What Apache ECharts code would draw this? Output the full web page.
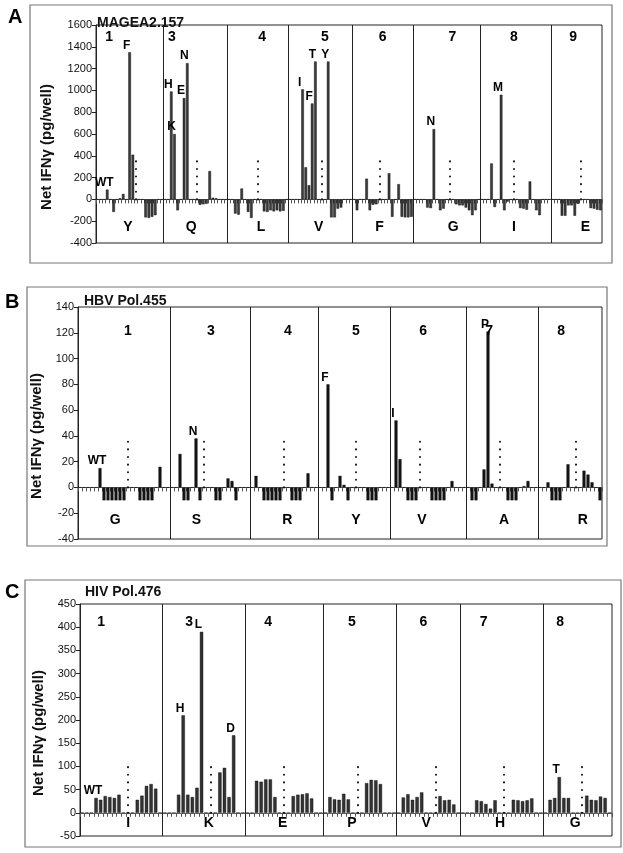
<!DOCTYPE html>
<html><head><meta charset="utf-8">
<script src="https://cdn.jsdelivr.net/npm/echarts@6/dist/echarts.min.js"></script>
<style>html,body{margin:0;padding:0;background:#fff}#c{width:623px;height:853px}</style>
</head><body><div id="c"></div>
<script>
// ---------------- Panel A : MAGEA2.157 ----------------
const A_title = 'MAGEA2.157';
const A_sections = ['1','3','4','5','6','7','8','9'];
const A_residues = ['Y','Q','L','V','F','G','I','E'];
const A_pos1 = [0,0,0,90,0,-115,0,10,50,0,1350,410,0,0,0,-165,-170,-160,-145,0,0];
const A_pos3 = [0,0,990,600,-100,0,930,1250,0,0,0,-50,-45,-40,260,15,10,0,0,0];
const A_pos4 = [0,0,-130,-140,100,0,-115,-170,0,0,0,-110,-115,-100,-110,-100,-110,-105,0];
const A_pos5 = [0,0,0,0,1010,295,130,880,1265,0,0,0,1265,-165,-165,-85,-75,0,0,0];
const A_pos6 = [0,-100,0,0,190,-100,-50,-45,0,0,0,240,-160,0,140,-160,-165,-165,-160];
const A_pos7 = [0,0,0,0,-75,-80,645,0,-100,-85,0,0,0,-45,-55,-55,-75,-100,-145,-100,0];
const A_pos8 = [0,0,0,330,-70,0,960,-100,-20,0,0,0,-80,-85,-95,165,0,-100,-145,0,0,0];
const A_pos9 = [0,0,0,-150,-150,-55,-55,-150,-40,0,0,0,-80,-85,-95,-100];
const A_wtSlot = [12,10,9,10,8,11,10,9];
const A_marks = [{3:'WT',10:'F'},{2:'H',3:'K',6:'E',7:'N'},{},{4:'I',7:'F',8:'T',12:'Y'},{},{6:'N'},{6:'M'},{}];
const A_yTicks = [-400,-200,0,200,400,600,800,1000,1200,1400,1600];

// ---------------- Panel B : HBV Pol.455 ----------------
const B_title = 'HBV Pol.455';
const B_sections = ['1','3','4','5','6','7','8'];
const B_residues = ['G','S','R','Y','V','A','R'];
const B_pos1 = [0,0,0,0,0,15,-10,-10,-10,-10,-10,-10,0,0,0,-10,-10,-10,-10,0,16,0,0];
const B_pos3 = [0,0,26,-10,-10,0,38,-10,0,0,0,-10,-10,0,7,5,-10,0,0,0];
const B_pos4 = [0,9,0,-10,-10,-10,-10,-10,0,0,-10,-10,-10,0,11,0,0];
const B_pos5 = [0,0,80,-10,0,9,2,-10,0,0,0,0,-10,-10,-10,0,0,0];
const B_pos6 = [0,52,22,0,-10,-10,-10,0,0,0,-10,-10,-10,-10,0,5,0,0,0];
const B_pos7 = [0,-10,-10,0,14,121,3,0,0,0,-10,-10,-10,0,1,5,0,0];
const B_pos8 = [0,0,4,-10,-10,-10,0,18,0,0,0,13,10,4,0,-10];
const B_wtSlot = [12,8,8,9,7,8,9];
const B_marks = [{5:'WT'},{6:'N'},{},{2:'F'},{1:'I'},{5:'P'},{}];
const B_yTicks = [-40,-20,0,20,40,60,80,100,120,140];

// ---------------- Panel C : HIV Pol.476 ----------------
const C_title = 'HIV Pol.476';
const C_sections = ['1','3','4','5','6','7','8'];
const C_residues = ['I','K','E','P','V','H','G'];
const C_pos1 = [0,0,0,32,28,36,34,32,39,0,0,0,28,37,58,62,52,0];
const C_pos3 = [0,0,0,39,210,39,34,54,390,0,0,0,87,97,34,167,0,0];
const C_pos4 = [0,0,69,67,72,72,34,0,0,0,36,39,40,42,31,0,0];
const C_pos5 = [0,34,29,28,41,29,0,0,0,64,71,70,62,0,0,0];
const C_pos6 = [0,33,40,28,34,44,0,0,0,36,27,28,18,0];
const C_pos7 = [0,0,0,27,25,19,9,27,0,0,0,28,27,25,27,31,0,0];
const C_pos8 = [0,28,32,77,32,32,0,0,0,37,28,27,35,32,0];
const C_wtSlot = [10,10,8,7,8,9,8];
const C_marks = [{3:'WT'},{4:'H',8:'L',15:'D'},{},{},{},{},{3:'T'}];
const C_yTicks = [-50,0,50,100,150,200,250,300,350,400,450];

// ---------------- layout (not data) ----------------
const FONT = '"Liberation Sans", Arial, Helvetica, sans-serif';
const panels = [
  {title:A_title, sections:A_sections, residues:A_residues,
   values:[A_pos1,A_pos3,A_pos4,A_pos5,A_pos6,A_pos7,A_pos8,A_pos9],
   wt:A_wtSlot, marks:A_marks, yTicks:A_yTicks,
   grid:{left:96, top:25, right:21, bottom:610}, barWidth:2.6, color:'#3c3c3c',
   dotTop:380, numY:1490, resY:-250, nameGap:42,
   numShift:[-8.4,-7.8,1.4,1,1,0.8,0,-2.5], resShift:[-2.5,-1.8,1,-1,0,1,0,1.3],
   titlePos:{left:97, top:16}, letter:'A', letterPos:{left:8, top:7},
   frame:{x:30, y:5, w:582, h:258}},
  {title:B_title, sections:B_sections, residues:B_residues,
   values:[B_pos1,B_pos3,B_pos4,B_pos5,B_pos6,B_pos7,B_pos8],
   wt:B_wtSlot, marks:B_marks, yTicks:B_yTicks,
   grid:{left:78, top:307, right:21, bottom:314}, barWidth:3, color:'#151515',
   dotTop:37, numY:121, resY:-25, nameGap:31,
   numShift:[0,1.7,1,0,0.8,-2.7,-3.7], resShift:[-3.2,-1.9,0.8,0,0.5,1,1.7],
   titlePos:{left:84, top:294}, letter:'B', letterPos:{left:5, top:292},
   frame:{x:27, y:287, w:580, h:259}},
  {title:C_title, sections:C_sections, residues:C_residues,
   values:[C_pos1,C_pos3,C_pos4,C_pos5,C_pos6,C_pos7,C_pos8],
   wt:C_wtSlot, marks:C_marks, yTicks:C_yTicks,
   grid:{left:80, top:604, right:11, bottom:17}, barWidth:3.3, color:'#333',
   dotTop:100, numY:410, resY:-22, nameGap:33,
   numShift:[-5.9,-4.7,-3.5,-1.2,-2.6,-4.5,-4.8], resShift:[0,-0.4,-0.3,-1.2,-2,-0.9,-1.5],
   titlePos:{left:85, top:585}, letter:'C', letterPos:{left:5, top:582},
   frame:{x:25, y:580, w:596, h:267}}
];

const option = {animation:false, textStyle:{fontFamily:FONT},
  grid:[], xAxis:[], yAxis:[], series:[], title:[], graphic:[]};

panels.forEach((p, gi) => {
  const sizes = p.values.map(s => s.length);
  const starts = []; let acc = 0;
  sizes.forEach(n => { starts.push(acc); acc += n; });
  const total = acc;
  const yMin = p.yTicks[0], yMax = p.yTicks[p.yTicks.length-1];
  const yInt = p.yTicks[1] - p.yTicks[0];

  option.grid.push(Object.assign({show:true, borderColor:'#222', borderWidth:1, containLabel:false}, p.grid));
  option.xAxis.push({type:'value', gridIndex:gi, min:0, max:total, interval:1,
    axisLine:{show:true, onZero:true, lineStyle:{color:'#666', width:1}},
    axisTick:{show:true, length:4, inside:false, lineStyle:{color:'#555', width:1}},
    axisLabel:{show:false}, splitLine:{show:false}});
  option.yAxis.push({type:'value', gridIndex:gi, min:yMin, max:yMax, interval:yInt,
    axisLine:{show:true, lineStyle:{color:'#222'}},
    axisTick:{show:true, length:4, lineStyle:{color:'#222'}},
    axisLabel:{fontSize:11, color:'#111', margin:4, fontFamily:FONT, formatter:v => String(v)},
    splitLine:{show:false},
    name:'Net IFNγ (pg/well)', nameLocation:'middle', nameGap:p.nameGap,
    nameTextStyle:{fontSize:15, fontWeight:'bold', color:'#111', fontFamily:FONT, padding:[0,26,0,0]}});

  const barData = [];
  p.values.forEach((sec, si) => sec.forEach((v, li) => {
    const item = {value:[starts[si] + li + 0.5, v]};
    const m = p.marks[si][li];
    if (m) item.label = {show:true, formatter:m};
    barData.push(item);
  }));
  option.series.push({type:'bar', xAxisIndex:gi, yAxisIndex:gi, data:barData,
    barWidth:p.barWidth, itemStyle:{color:p.color, borderColor:'#000', borderWidth:0.4},
    label:{show:false, position:'top', distance:1, offset:[-3,0], fontSize:12, fontWeight:'bold', color:'#000', fontFamily:FONT},
    markLine:{silent:true, symbol:['none','none'], label:{show:false},
      lineStyle:{color:'#222', width:1, type:'solid'},
      data:starts.slice(1).map(s => ({xAxis:s}))}});

  const textData = [];
  p.sections.forEach((s, si) => {
    const wx = starts[si] + p.wt[si] + 0.5;
    textData.push({name:s, value:[wx + p.numShift[si], p.numY]});
    textData.push({name:p.residues[si], value:[wx + p.resShift[si], p.resY]});
  });
  const dots = p.sections.map((s, si) => starts[si] + p.wt[si] + 0.5);
  option.series.push({type:'scatter', xAxisIndex:gi, yAxisIndex:gi, data:textData,
    symbolSize:1, itemStyle:{color:'rgba(255,255,255,0)'}, silent:true,
    label:{show:true, position:'inside', formatter:'{b}', fontSize:14, fontWeight:'bold',
      color:'#000', opacity:1, textBorderWidth:0, fontFamily:FONT},
    markLine:{silent:true, symbol:['none','none'], label:{show:false},
      lineStyle:{color:'#111', width:2, type:[0.1,7.5], cap:'round'},
      data:dots.map(x => [{coord:[x,0]},{coord:[x,p.dotTop]}])}});

  option.title.push({text:p.title, left:p.titlePos.left, top:p.titlePos.top, padding:0,
    textStyle:{fontSize:14, fontWeight:'bold', color:'#111', fontFamily:FONT}});
  option.title.push({text:p.letter, left:p.letterPos.left, top:p.letterPos.top, padding:0,
    textStyle:{fontSize:20, fontWeight:'bold', color:'#000', fontFamily:FONT}});
  option.graphic.push({type:'rect', silent:true, z:-1,
    shape:{x:p.frame.x, y:p.frame.y, width:p.frame.w, height:p.frame.h},
    style:{fill:null, stroke:'#777', lineWidth:1.2}});
});

const chart = echarts.init(document.getElementById('c'), null, {renderer:'canvas'});
chart.setOption(option);
</script>
</body></html>
